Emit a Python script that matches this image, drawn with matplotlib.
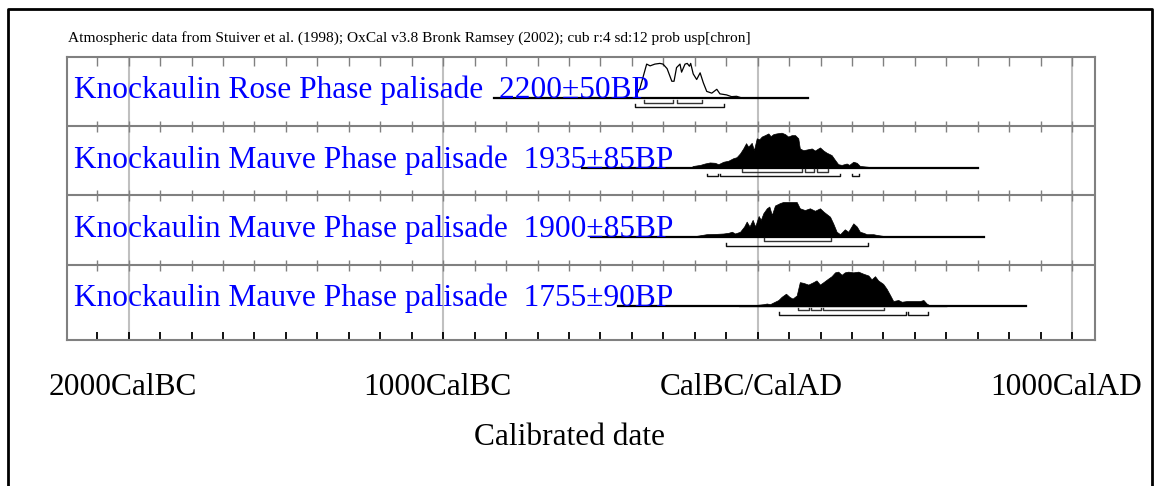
import numpy as np
import matplotlib
matplotlib.use("Agg")
import matplotlib.pyplot as plt
import matplotlib.transforms as mtransforms
from matplotlib.lines import Line2D

# ---- data ----
labels = ["Knockaulin Rose Phase palisade  2200\u00b150BP",
          "Knockaulin Mauve Phase palisade  1935\u00b185BP",
          "Knockaulin Mauve Phase palisade  1900\u00b185BP",
          "Knockaulin Mauve Phase palisade  1755\u00b190BP"]
filled = [False, True, True, True]

# full calibrated range drawn for each date (years, BC negative)
range_start = [-838, -560, -530, -444]
range_end = [159, 700, 720, 852]

# probability curves (relative)
yrs1 = [-838, -390, -374, -353, -342, -327, -311, -301, -288, -273, -266, -258, -247, -242,
        -231, -224, -217, -213, -205, -194, -183, -173, -162, -146, -130, -120, -99, -83,
        -67, -46, 159]
p1 = [0, 0, 0.3, 0.98, 0.93, 0.98, 1.0, 0.98, 0.85, 0.49, 0.49, 0.88, 0.98, 0.75,
      0.98, 1.0, 0.92, 1.0, 0.7, 0.54, 0.73, 0.45, 0.2, 0.15, 0.26, 0.13, 0.1, 0.05,
      0.06, 0.0, 0]

yrs2 = [-215, -205, -183, -168, -152, -136, -125, -109, -93, -78, -67, -56, -46, -37, -30,
        -19, -12, -3, 5, 13, 23, 34, 41, 50, 60, 76, 87, 97, 108, 119, 129, 134, 145, 156,
        172, 182, 198, 209, 219, 235, 246, 256, 267, 283, 291, 304, 315, 325, 347, 378]
p2 = [0, 0.05, 0.08, 0.12, 0.15, 0.14, 0.10, 0.17, 0.20, 0.27, 0.30, 0.41, 0.55, 0.70, 0.60,
      0.71, 0.50, 0.84, 0.81, 0.89, 0.93, 0.98, 0.90, 0.96, 0.98, 1.0, 0.96, 0.89, 0.93, 0.93,
      0.84, 0.55, 0.50, 0.52, 0.55, 0.49, 0.58, 0.49, 0.43, 0.36, 0.22, 0.10, 0.08, 0.12,
      0.08, 0.17, 0.14, 0.05, 0.03, 0]

yrs3 = [-215, -196, -163, -130, -109, -93, -82, -72, -56, -43, -35, -26, -16, -8, 3, 10, 18,
        29, 37, 45, 55, 71, 81, 102, 124, 134, 150, 166, 182, 198, 210, 230, 240, 251, 262,
        277, 288, 304, 315, 325, 336, 347, 368, 378, 400, 421]
p3 = [0, 0.03, 0.08, 0.09, 0.10, 0.12, 0.15, 0.10, 0.15, 0.30, 0.44, 0.30, 0.49, 0.30, 0.60,
      0.49, 0.68, 0.82, 0.87, 0.63, 0.90, 0.97, 1.0, 1.0, 1.0, 0.82, 0.77, 0.82, 0.75, 0.82,
      0.72, 0.58, 0.39, 0.15, 0.08, 0.22, 0.15, 0.39, 0.30, 0.15, 0.12, 0.08, 0.08, 0.06,
      0.03, 0]

yrs4 = [-60, -35, -3, 18, 29, 39, 50, 66, 76, 90, 101, 111, 124, 134, 145, 161, 177, 187,
        198, 209, 224, 235, 246, 256, 267, 277, 288, 304, 320, 336, 352, 362, 373, 383, 399,
        410, 421, 431, 447, 458, 474, 495, 516, 527, 537, 548, 601]
p4 = [0, 0.02, 0.04, 0.06, 0.08, 0.06, 0.11, 0.18, 0.27, 0.36, 0.27, 0.22, 0.31, 0.69, 0.67,
      0.62, 0.69, 0.74, 0.62, 0.69, 0.79, 0.86, 0.97, 0.99, 0.90, 0.97, 0.99, 0.97, 0.99,
      0.93, 0.88, 0.77, 0.86, 0.74, 0.64, 0.50, 0.32, 0.15, 0.18, 0.13, 0.15, 0.15, 0.15,
      0.18, 0.08, 0.02, 0]

curves = [(yrs1, p1), (yrs2, p2), (yrs3, p3), (yrs4, p4)]

# 68.2% and 95.4% ranges
ranges68 = [[(-360, -268), (-258, -178)],
            [(-49, 142), (149, 180), (190, 222)],
            [(20, 232)],
            [(129, 162), (170, 200), (209, 401)]]
ranges95 = [[(-389, -108)],
            [(-160, -127), (-121, 262), (299, 321)],
            [(-100, 352)],
            [(69, 471), (479, 540)]]

axis_years = [-2000, -1000, 0, 1000]
axis_names = ["2000CalBC", "1000CalBC", "CalBC/CalAD", "1000CalAD"]
title = ("Atmospheric data from Stuiver et al. (1998); OxCal v3.8 Bronk Ramsey (2002); "
         "cub r:4 sd:12 prob usp[chron]")

# ---- layout (pixels) ----
W, H = 1154, 486
left, right, top, bottom = 66.7, 1095, 56.7, 340
row_h = 69.3
base_off = 41.7
peak_h = 35
serif = "Liberation Serif"
gray = "#808080"

fig = plt.figure(figsize=(W / 100, H / 100), dpi=100)
ax = fig.add_axes([left / W, 1 - bottom / H, (right - left) / W, (bottom - top) / H])
ax.set_xlim(-2197, 1072.5)
ax.set_ylim(bottom, top)
ax.set_xticks([])
ax.set_yticks([])
for s in ax.spines.values():
    s.set_color(gray)
    s.set_linewidth(1.5)

# millennium grid lines
for yr in axis_years:
    ax.axvline(yr, color="#c0c0c0", lw=1.5, zorder=0)

cent = np.arange(-2100, 1001, 100)
# ticks hanging from the top border
ax.vlines(cent, top, top + 9, color=gray, lw=1)
# row separators with ticks
for i in range(1, 4):
    y = top + i * row_h
    ax.axhline(y, color=gray, lw=1.5)
    ax.vlines(cent, y - 5, y + 6, color=gray, lw=1)
# bottom axis ticks
ax.vlines(cent, bottom - 8, bottom, color="black", lw=1.3)

label_tf = mtransforms.blended_transform_factory(ax.transAxes, ax.transData)
for i in range(4):
    base = top + i * row_h + base_off
    yrs, pr = curves[i]
    yv = base - np.array(pr) * peak_h
    ax.plot([range_start[i], range_end[i]], [base, base], color="black", lw=1.6, zorder=3)
    if filled[i]:
        ax.fill_between(yrs, base, yv, color="black", lw=0.5, zorder=3)
    else:
        ax.plot(yrs, yv, color="black", lw=0.9, zorder=3)
    for (a, b) in ranges68[i]:
        ax.plot([a, a, b, b], [base + 1.5, base + 4.2, base + 4.2, base + 1.5],
                color="#333333", lw=1, zorder=3)
    for (a, b) in ranges95[i]:
        ax.plot([a, a, b, b], [base + 6, base + 8.7, base + 8.7, base + 6],
                color="#111111", lw=1, zorder=3)
    ax.text((74 - left) / (right - left), base, labels[i], transform=label_tf,
            va="baseline", ha="left", color="#0000ff", fontsize=22.6, family=serif, zorder=4)

# millennium labels under the axis
lab_tf = mtransforms.offset_copy(ax.transData, fig=fig, x=-6, y=0, units="dots")
for yr, name in zip(axis_years, axis_names):
    ax.text(yr, 395, name, transform=lab_tf, ha="center", va="baseline",
            fontsize=22.6, family=serif)

fig.text(569.5 / W, 1 - 445 / H, "Calibrated date", ha="center", va="baseline",
         fontsize=22.6, family=serif)
fig.text(68 / W, 1 - 41.7 / H, title, ha="left", va="baseline", fontsize=11.1,
         family=serif)

# outer black frame (open at the bottom)
fx = [8 / W, 8 / W, 1152 / W, 1152 / W]
fy = [-0.05, 1 - 9 / H, 1 - 9 / H, -0.05]
fig.add_artist(Line2D(fx, fy, transform=fig.transFigure, color="black", lw=2))

fig.savefig("out.png", dpi=100)
